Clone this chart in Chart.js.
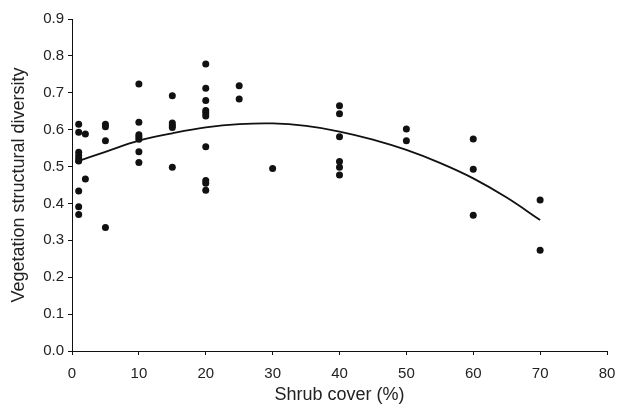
<!DOCTYPE html>
<html>
<head>
<meta charset="utf-8">
<script src="https://cdn.jsdelivr.net/npm/chart.js@4.4.1/dist/chart.umd.min.js"></script>
<style>
    html, body { margin: 0; padding: 0; background: #fff; }
    .chart-box { width: 619px; height: 408px; }
</style>
</head>
<body>
<div class="chart-box"><canvas id="chart"></canvas></div>
<script>
// sample plots: shrub cover (%) and structural diversity
var shrubCover = [
    1, 1, 1, 1, 1, 1, 1, 1, 1,
    2, 2,
    5, 5, 5, 5,
    10, 10, 10, 10, 10, 10, 10,
    15, 15, 15, 15, 15,
    20, 20, 20, 20, 20, 20, 20, 20, 20, 20,
    25, 25,
    30,
    40, 40, 40, 40, 40, 40,
    50, 50,
    60, 60, 60,
    70, 70
];
var diversity = [
    0.615, 0.593, 0.539, 0.529, 0.521, 0.515, 0.434, 0.391, 0.370,
    0.588, 0.466,
    0.615, 0.608, 0.570, 0.335,
    0.724, 0.620, 0.586, 0.580, 0.574, 0.540, 0.511,
    0.692, 0.618, 0.611, 0.606, 0.498,
    0.778, 0.712, 0.679, 0.652, 0.645, 0.637, 0.554, 0.462, 0.455, 0.436,
    0.719, 0.683,
    0.495,
    0.665, 0.643, 0.581, 0.514, 0.498, 0.477,
    0.602, 0.570,
    0.575, 0.493, 0.368,
    0.409, 0.273
];

// fitted trend curve
var trendX = [0.5, 5, 10, 15, 20, 25, 30, 35, 40, 45, 50, 55, 60, 65, 70];
var trendY = [0.512, 0.540, 0.570, 0.590, 0.606, 0.615, 0.617, 0.610, 0.595, 0.573, 0.545, 0.510, 0.468, 0.416, 0.355];

var xTicks = ['0', '10', '20', '30', '40', '50', '60', '70', '80'];
var yTicks = ['0.0', '0.1', '0.2', '0.3', '0.4', '0.5', '0.6', '0.7', '0.8', '0.9'];

var points = shrubCover.map(function (x, i) { return { x: x, y: diversity[i] }; });
var trend = trendX.map(function (x, i) { return { x: x, y: trendY[i] }; });

var fontFamily = '"Liberation Sans", Arial, Helvetica, sans-serif';
var textColor = '#222';

var ctx = document.getElementById('chart');
var myChart = new Chart(ctx, {
    type: 'scatter',
    data: {
        datasets: [{
            data: points,
            backgroundColor: '#111',
            borderColor: '#111',
            pointRadius: 3.5,
            pointBorderWidth: 0
        }, {
            data: trend,
            showLine: true,
            borderColor: '#111',
            borderWidth: 1.8,
            pointRadius: 0,
            tension: 0.4,
            fill: false
        }]
    },
    options: {
        responsive: true,
        maintainAspectRatio: false,
        animation: false,
        layout: { padding: { top: 19, right: 12, left: 0, bottom: 0 } },
        plugins: {
            legend: { display: false },
            tooltip: { enabled: false }
        },
        scales: {
            x: {
                type: 'linear',
                min: 0,
                max: 80,
                afterFit: function (scale) {
                    scale.height = 57;
                    scale.paddingLeft = 0;
                    scale.paddingRight = 0;
                },
                border: { display: true, color: '#111', width: 1 },
                grid: { drawOnChartArea: false, drawTicks: true, tickLength: 4, color: '#111' },
                ticks: {
                    stepSize: 10,
                    padding: 10,
                    color: textColor,
                    font: { family: fontFamily, size: 15 },
                    callback: function (v) { return xTicks[Math.round(v / 10)]; }
                },
                title: {
                    display: true,
                    text: 'Shrub cover (%)',
                    color: textColor,
                    font: { family: fontFamily, size: 18 },
                    padding: { top: 0, bottom: 2 }
                }
            },
            y: {
                type: 'linear',
                min: 0,
                max: 0.9,
                afterFit: function (scale) {
                    scale.width = 72;
                    scale.paddingTop = 0;
                    scale.paddingBottom = 0;
                },
                border: { display: true, color: '#111', width: 1 },
                grid: { drawOnChartArea: false, drawTicks: true, tickLength: 4, color: '#111' },
                ticks: {
                    stepSize: 0.1,
                    padding: 4,
                    color: textColor,
                    font: { family: fontFamily, size: 15 },
                    callback: function (v) { return yTicks[Math.round(v * 10)]; }
                },
                title: {
                    display: true,
                    text: 'Vegetation structural diversity',
                    color: textColor,
                    font: { family: fontFamily, size: 18 },
                    padding: { top: 8, bottom: 0 }
                }
            }
        }
    }
});
</script>
</body>
</html>
